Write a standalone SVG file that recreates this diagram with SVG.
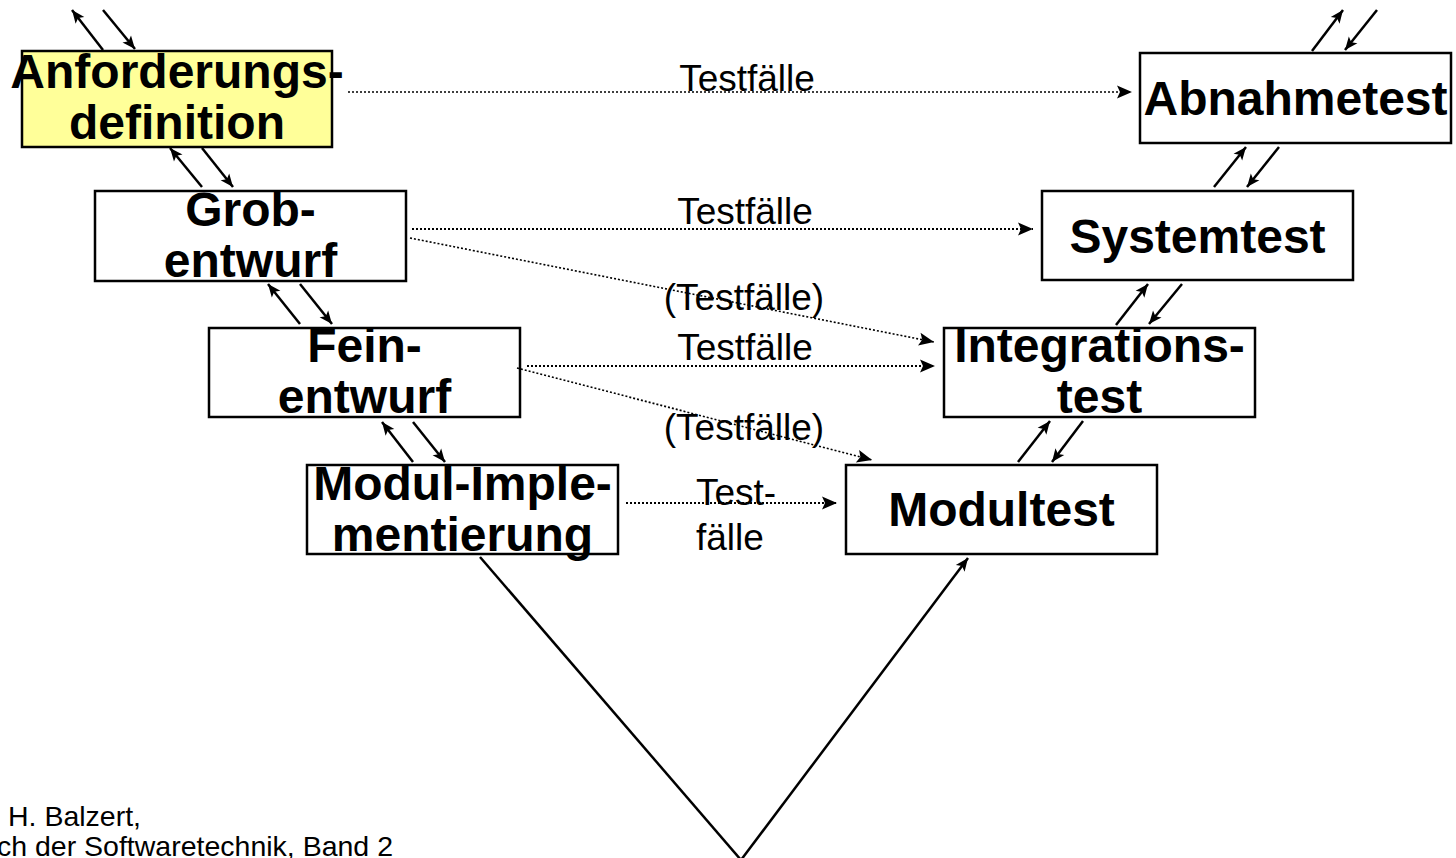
<svg xmlns="http://www.w3.org/2000/svg" width="1456" height="858" viewBox="0 0 1456 858">
  <style>
    .box { fill: #ffffff; stroke: #000000; stroke-width: 2.5; }
    .box.req { fill: #ffff99; }
    .title { font-family: "Liberation Sans", Arial, sans-serif; font-weight: bold; font-size: 48px; fill: #000000; text-anchor: middle; }
    .label { font-family: "Liberation Sans", Arial, sans-serif; font-size: 37px; fill: #000000; }
    .note { font-family: "Liberation Sans", Arial, sans-serif; font-size: 28.5px; fill: #000000; }
    .flow { stroke: #000000; stroke-width: 2.5; fill: none; marker-end: url(#head); }
    .dot { stroke: #000000; stroke-width: 2.2; stroke-dasharray: 2 2; fill: none; marker-end: url(#dothead); }
    .dot.thin { stroke-width: 1.6; }
    .v { stroke: #000000; stroke-width: 2.5; fill: none; }
  </style>
  <defs>
    <marker id="head" markerUnits="userSpaceOnUse" viewBox="-15 -7 16 14" refX="0" refY="0" markerWidth="16" markerHeight="14" orient="auto">
      <path d="M0,0 L-13,-5.5 L-10,0 L-13,5.5 Z" fill="#000000"/>
    </marker>
    <marker id="dothead" markerUnits="userSpaceOnUse" viewBox="-17 -8 18 16" refX="0" refY="0" markerWidth="18" markerHeight="16" orient="auto">
      <path d="M0,0 L-15,-6.5 L-12,0 L-15,6.5 Z" fill="#000000"/>
    </marker>
  </defs>

  <!-- development phases (left branch) -->
  <g id="anforderungsdefinition">
    <rect class="box req" x="22" y="51" width="310" height="96"/>
    <text class="title" x="177" y="88">Anforderungs-</text>
    <text class="title" x="177" y="139">definition</text>
  </g>
  <g id="grobentwurf">
    <rect class="box" x="95" y="191" width="311" height="90"/>
    <text class="title" x="250.5" y="226">Grob-</text>
    <text class="title" x="250.5" y="277">entwurf</text>
  </g>
  <g id="feinentwurf">
    <rect class="box" x="209" y="328" width="311" height="89"/>
    <text class="title" x="364.5" y="362">Fein-</text>
    <text class="title" x="364.5" y="413">entwurf</text>
  </g>
  <g id="modul-implementierung">
    <rect class="box" x="307" y="465" width="311" height="89"/>
    <text class="title" x="462.5" y="500">Modul-Imple-</text>
    <text class="title" x="462.5" y="551">mentierung</text>
  </g>

  <!-- test phases (right branch) -->
  <g id="abnahmetest">
    <rect class="box" x="1140" y="53" width="311" height="90"/>
    <text class="title" x="1295.5" y="115">Abnahmetest</text>
  </g>
  <g id="systemtest">
    <rect class="box" x="1042" y="191" width="311" height="89"/>
    <text class="title" x="1197.5" y="253">Systemtest</text>
  </g>
  <g id="integrationstest">
    <rect class="box" x="944" y="328" width="311" height="89"/>
    <text class="title" x="1099.5" y="362">Integrations-</text>
    <text class="title" x="1099.5" y="413">test</text>
  </g>
  <g id="modultest">
    <rect class="box" x="846" y="465" width="311" height="89"/>
    <text class="title" x="1001.5" y="526">Modultest</text>
  </g>

  <!-- labels on the test case flows -->
  <g id="labels">
    <text class="label" x="747" y="91" text-anchor="middle">Testfälle</text>
    <text class="label" x="745" y="224" text-anchor="middle">Testfälle</text>
    <text class="label" x="744" y="310" text-anchor="middle">(Testfälle)</text>
    <text class="label" x="745" y="360" text-anchor="middle">Testfälle</text>
    <text class="label" x="744" y="440" text-anchor="middle">(Testfälle)</text>
    <text class="label" x="696" y="505">Test-</text>
    <text class="label" x="696" y="550">fälle</text>
  </g>

  <g id="connectors">
    <!-- V shape -->
    <polyline class="v" points="480,557 741,860"/>
    <line class="flow" x1="741" y1="860" x2="968" y2="558"/>

    <!-- feedback between development phases -->
    <line class="flow" x1="103" y1="50" x2="72" y2="10"/>
    <line class="flow" x1="103" y1="10" x2="135" y2="49"/>
    <line class="flow" x1="202" y1="187" x2="170" y2="148"/>
    <line class="flow" x1="202" y1="148" x2="233" y2="187"/>
    <line class="flow" x1="300" y1="324" x2="268" y2="284"/>
    <line class="flow" x1="300" y1="284" x2="332" y2="324"/>
    <line class="flow" x1="413" y1="462" x2="382" y2="422"/>
    <line class="flow" x1="413" y1="422" x2="445" y2="462"/>

    <!-- feedback between test phases -->
    <line class="flow" x1="1312" y1="51" x2="1343" y2="10"/>
    <line class="flow" x1="1377" y1="10" x2="1345" y2="50"/>
    <line class="flow" x1="1214" y1="187" x2="1246" y2="147"/>
    <line class="flow" x1="1279" y1="147" x2="1247" y2="187"/>
    <line class="flow" x1="1116" y1="325" x2="1148" y2="284"/>
    <line class="flow" x1="1182" y1="284" x2="1149" y2="324"/>
    <line class="flow" x1="1018" y1="462" x2="1050" y2="421"/>
    <line class="flow" x1="1083" y1="421" x2="1052" y2="462"/>

    <!-- test case flows -->
    <line class="dot thin" x1="348" y1="92" x2="1132" y2="92"/>
    <line class="dot" x1="412" y1="229" x2="1033" y2="229"/>
    <line class="dot thin" x1="410" y1="238" x2="934" y2="342"/>
    <line class="dot" x1="527" y1="366" x2="935" y2="366"/>
    <line class="dot thin" x1="517" y1="368" x2="872" y2="460"/>
    <line class="dot" x1="626" y1="503" x2="837" y2="503"/>
  </g>

  <!-- source reference -->
  <g id="source">
    <text class="note" x="8" y="826">H. Balzert,</text>
    <text class="note" x="393" y="856" text-anchor="end">Lehrbuch der Softwaretechnik, Band 2</text>
  </g>
</svg>
